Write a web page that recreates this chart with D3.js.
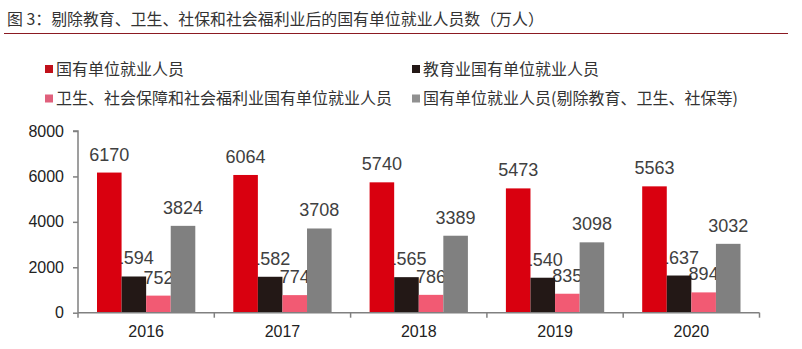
<!DOCTYPE html>
<html><head><meta charset="utf-8">
<script src="https://cdn.jsdelivr.net/npm/d3@7"></script>
<style>html,body{margin:0;padding:0;background:#fff;}svg{display:block;}</style>
</head><body>
<svg id="chart" width="802" height="349"></svg>
<script>
const title = "图 3：剔除教育、卫生、社保和社会福利业后的国有单位就业人员数（万人）";
const years = ["2016", "2017", "2018", "2019", "2020"];
const seriesNames = ["国有单位就业人员", "教育业国有单位就业人员", "卫生、社会保障和社会福利业国有单位就业人员", "国有单位就业人员(剔除教育、卫生、社保等)"];
const stateOwned = [6170, 6064, 5740, 5473, 5563];
const education = [1594, 1582, 1565, 1540, 1637];
const health = [752, 774, 786, 835, 894];
const excluded = [3824, 3708, 3389, 3098, 3032];
const yTicks = [0, 2000, 4000, 6000, 8000];
const colors = ["#d9000f", "#231816", "#f25a73", "#808080"];
const legendColors = ["#c0101a", "#231816", "#e0607c", "#909090"];

const values = [stateOwned, education, health, excluded];
const svg = d3.select("#chart");
const numFont = "'Liberation Sans', Arial, sans-serif";
const cjkFont = "'Noto Sans CJK SC', sans-serif";

// title
svg.append("text").attr("x", 7).attr("y", 25).attr("font-family", cjkFont).attr("font-size", 15.9)
  .attr("fill", "#333").text(title);
svg.append("line").attr("x1", 4).attr("x2", 788).attr("y1", 33.5).attr("y2", 33.5)
  .attr("stroke", "#8b1a22").attr("stroke-width", 1.2);

// legend
const legendPos = [[45, 69], [412, 69], [45, 98.5], [412, 98.5]];
seriesNames.forEach((name, i) => {
  const [lx, ly] = legendPos[i];
  svg.append("rect").attr("x", lx).attr("y", ly - 4).attr("width", 8).attr("height", 8).attr("fill", legendColors[i]);
  svg.append("text").attr("x", lx + 11).attr("y", ly).attr("dy", "0.35em")
    .attr("font-family", cjkFont).attr("font-size", 16).attr("fill", "#333").text(name);
});

const x = d3.scaleBand().domain(years).range([78, 759.5]).paddingInner(0).paddingOuter(0);
const xs = d3.scaleBand().domain(d3.range(4)).range([19, x.bandwidth() - 19]).padding(0);
const y = d3.scaleLinear().domain([0, 8000]).range([312.7, 131]);

// data labels (drawn beneath bars)
const lbl = svg.append("g");
values.forEach((vals, s) => {
  lbl.selectAll(null).data(years).enter().append("text")
    .attr("x", (d, i) => x(d) + xs(s) + xs.bandwidth() / 2)
    .attr("y", (d, i) => y(vals[i]) - 12)
    .attr("text-anchor", "middle").attr("font-family", numFont).attr("font-size", 18)
    .attr("fill", "#404040").text((d, i) => vals[i]);
});

// bars
values.forEach((vals, s) => {
  svg.append("g").selectAll("rect").data(years).enter().append("rect")
    .attr("x", d => x(d) + xs(s))
    .attr("width", xs.bandwidth())
    .attr("y", (d, i) => y(vals[i]))
    .attr("height", (d, i) => y(0) - y(vals[i]))
    .attr("fill", colors[s]);
});

// y axis
const yAxis = d3.axisLeft(y).tickValues(yTicks).tickSize(5).tickPadding(9).tickFormat(d3.format("d"));
const gy = svg.append("g").attr("transform", "translate(78,0)").call(yAxis);
gy.select(".domain").attr("stroke", "#808080").attr("stroke-width", 1.5).attr("d", `M-5,${y(8000)}H0V${y(0)}`);
gy.selectAll(".tick line").attr("stroke", "#808080").attr("stroke-width", 1.5);
gy.selectAll(".tick text").attr("font-family", numFont).attr("font-size", 16).attr("fill", "#222");

// x axis
const gx = svg.append("g");
gx.append("line").attr("x1", 78).attr("x2", x.range()[1]).attr("y1", y(0)).attr("y2", y(0))
  .attr("stroke", "#808080").attr("stroke-width", 1.5);
const bounds = years.map(d => x(d)).concat([x.range()[1]]);
gx.selectAll(".xt").data(bounds).enter().append("line").attr("class", "xt")
  .attr("x1", d => d).attr("x2", d => d).attr("y1", y(0)).attr("y2", y(0) + 5)
  .attr("stroke", "#808080").attr("stroke-width", 1.5);
gx.selectAll(".xl").data(years).enter().append("text").attr("class", "xl")
  .attr("x", d => x(d) + x.bandwidth() / 2).attr("y", 337)
  .attr("text-anchor", "middle").attr("font-family", numFont).attr("font-size", 16).attr("fill", "#222").text(d => d);
</script>
</body></html>
